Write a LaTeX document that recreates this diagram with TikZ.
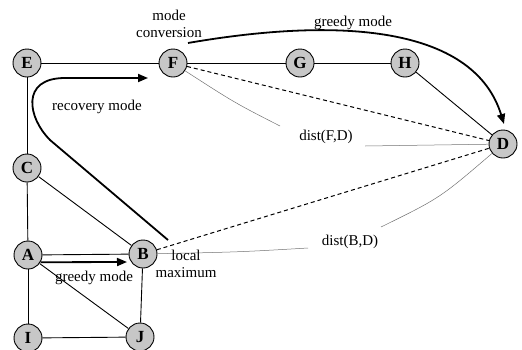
\documentclass[tikz,border=0pt]{standalone}
\usepackage{fontspec}
\setmainfont{Liberation Serif}
\usetikzlibrary{arrows.meta}
\begin{document}
\begin{tikzpicture}[x=1pt,y=-1pt,
  vertex/.style={circle,draw,line width=0.9pt,fill=black!22,minimum size=28pt,
    inner sep=0pt,font=\fontsize{17}{17}\selectfont\bfseries},
  edge/.style={line width=0.9pt},
  distline/.style={line width=1pt,dash pattern=on 4pt off 3pt},
  measure/.style={black!55,line width=0.5pt},
  move/.style={line width=1.8pt,-{Triangle[length=10pt,width=8pt]}},
  lbl/.style={font=\fontsize{15}{17}\selectfont,inner sep=0pt,align=center}]
\useasboundingbox (0,0) rectangle (522,349);

% vertices
\node[vertex] (E) at (27,63)  {E};
\node[vertex] (F) at (173,63) {F};
\node[vertex] (G) at (300,63) {G};
\node[vertex] (H) at (405,63) {H};
\node[vertex] (D) at (503,144) {D};
\node[vertex] (C) at (27,168) {C};
\node[vertex] (A) at (28,255) {A};
\node[vertex] (B) at (143,254) {B};
\node[vertex] (I) at (28,338) {I};
\node[vertex] (J) at (140,337) {J};

% links
\draw[edge] (E) -- (F);
\draw[edge] (F) -- (G);
\draw[edge] (G) -- (H);
\draw[edge] (H) -- (D);
\draw[edge] (E) -- (C);
\draw[edge] (C) -- (A);
\draw[edge] (A) -- (I);
\draw[edge] (I) -- (J);
\draw[edge] (J) -- (B);
\draw[edge] (A) -- (B);
\draw[edge] (C) -- (B);
\draw[edge] (A) -- (J);

% straight-line distances to the destination
\draw[distline] (F) -- (D);
\draw[distline] (B) -- (D);

% distance markers
\coordinate (fd1) at (280,126);
\coordinate (fd2) at (365,146);
\coordinate (bd1) at (308,248);
\coordinate (bd2) at (381,227);
\draw[measure] (F) .. controls (235,103) .. (fd1);
\draw[measure] (fd2) -- (D);
\draw[measure] (B) .. controls (240,252) .. (bd1);
\draw[measure] (bd2) .. controls (440,198) .. (D);

% routing modes
\coordinate (g0) at (188,43);
\coordinate (gd) at (504,124);
\draw[move] (g0) .. controls (350,15) and (475,30) .. (gd);

\coordinate (r0) at (168,240);
\coordinate (r1) at (148,78);
\draw[move] (r0) -- (50,140) .. controls (28,118) and (20,78) .. (65,78) -- (r1);

\coordinate (a1) at (127,262);
\draw[move] (A.-30) -- (a1);

% labels
\node[lbl] (lconv) at (169,24) {mode\\conversion};
\node[lbl] (lgreedy1) at (353,23) {greedy mode};
\node[lbl] (lrec) at (97,107) {recovery mode};
\node[lbl] (lfd) at (326,137) {dist(F,D)};
\node[lbl] (lbd) at (350,242) {dist(B,D)};
\node[lbl] (lgreedy2) at (94,278) {greedy mode};
\node[lbl] (llocal) at (186,264) {local\\maximum};
\end{tikzpicture}
\end{document}
